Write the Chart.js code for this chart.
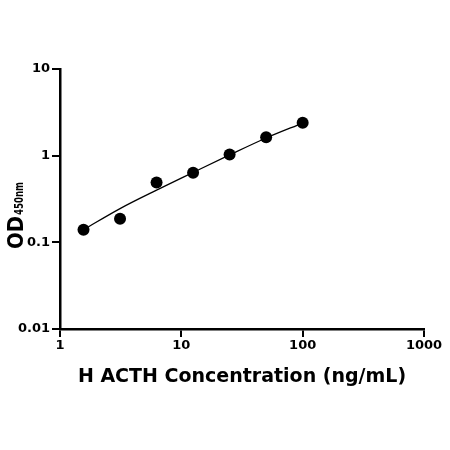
<!DOCTYPE html>
<html>
<head>
<meta charset="utf-8">
<script src="https://cdn.jsdelivr.net/npm/chart.js@4"></script>
<style>
  body { margin: 0; background: #fff; }
  canvas { display: block; }
</style>
</head>
<body>
<canvas id="js--chart" width="450" height="450"></canvas>
<script>
// measured points
const concentrations = [1.5625, 3.125, 6.25, 12.5, 25, 50, 100];
const odValues = [0.14, 0.187, 0.49, 0.637, 1.03, 1.63, 2.40];

// fitted curve
const fitConc = [1.5625, 3.125, 6.25, 12.5, 25, 50, 100];
const fitOd = [0.14, 0.245, 0.40, 0.64, 1.02, 1.60, 2.38];

const xTicks = [1, 10, 100, 1000];
const yTicks = [0.01, 0.1, 1, 10];

const xTitle = "H ACTH Concentration (ng/mL)";
const yTitleMain = "OD";
const yTitleSub = "450nm";

const tickFont = { family: "DejaVu Sans", size: 13, weight: "bold" };

// y title with subscript, drawn by hand
const yTitlePlugin = {
    id: "yTitle",
    afterDraw(chart) {
        const ctx = chart.ctx;
        ctx.save();
        ctx.translate(22.7, 249);
        ctx.rotate(-Math.PI / 2);
        ctx.fillStyle = "#000";
        ctx.textBaseline = "alphabetic";
        ctx.textAlign = "left";
        ctx.font = "bold 21px 'DejaVu Sans'";
        let w = ctx.measureText(yTitleMain).width;
        ctx.save();
        ctx.scale(33 / w, 1);
        ctx.fillText(yTitleMain, 0, 0);
        ctx.restore();
        ctx.font = "bold 12px 'DejaVu Sans'";
        let w2 = ctx.measureText(yTitleSub).width;
        ctx.translate(34, 0);
        ctx.scale(33 / w2, 1);
        ctx.fillText(yTitleSub, 0, 0);
        ctx.restore();
    }
};

const data = {
    datasets: [
        {
            label: "OD",
            data: concentrations.map((c, i) => ({ x: c, y: odValues[i] })),
            showLine: false,
            pointRadius: 6,
            pointHoverRadius: 6,
            backgroundColor: "#000",
            borderColor: "#000",
            borderWidth: 0
        },
        {
            label: "fit",
            data: fitConc.map((c, i) => ({ x: c, y: fitOd[i] })),
            showLine: true,
            pointRadius: 0,
            borderColor: "#000",
            borderWidth: 1.3,
            cubicInterpolationMode: "monotone"
        }
    ]
};

const config = {
    type: "scatter",
    data: data,
    options: {
        responsive: false,
        animation: false,
        devicePixelRatio: 1,
        layout: { padding: { top: 69, right: 26, left: 0, bottom: 0 } },
        plugins: {
            legend: { display: false },
            tooltip: { enabled: false }
        },
        scales: {
            x: {
                type: "logarithmic",
                min: 1,
                max: 1000,
                afterBuildTicks: (scale) => { scale.ticks = xTicks.map(v => ({ value: v })); },
                afterFit: (scale) => { scale.height = 121; },
                ticks: {
                    font: tickFont,
                    color: "#000",
                    padding: 1,
                    maxRotation: 0,
                    autoSkip: false,
                    callback: (v) => String(v)
                },
                grid: { drawOnChartArea: false, tickLength: 8, color: "#000", lineWidth: 2 },
                border: { color: "#000", width: 2.5 },
                title: {
                    display: true,
                    text: xTitle,
                    color: "#000",
                    font: { family: "DejaVu Sans", size: 19, weight: "bold" },
                    padding: { top: 0, bottom: 62 }
                }
            },
            y: {
                type: "logarithmic",
                min: 0.01,
                max: 10,
                afterBuildTicks: (scale) => { scale.ticks = yTicks.map(v => ({ value: v })); },
                afterFit: (scale) => { scale.width = 60; },
                ticks: {
                    font: tickFont,
                    color: "#000",
                    padding: 2,
                    autoSkip: false,
                    callback: (v) => String(v)
                },
                grid: { drawOnChartArea: false, tickLength: 8, color: "#000", lineWidth: 2 },
                border: { color: "#000", width: 2.5 }
            }
        }
    },
    plugins: [yTitlePlugin]
};

const chart1 = new Chart(document.getElementById("js--chart"), config);
</script>
</body>
</html>
